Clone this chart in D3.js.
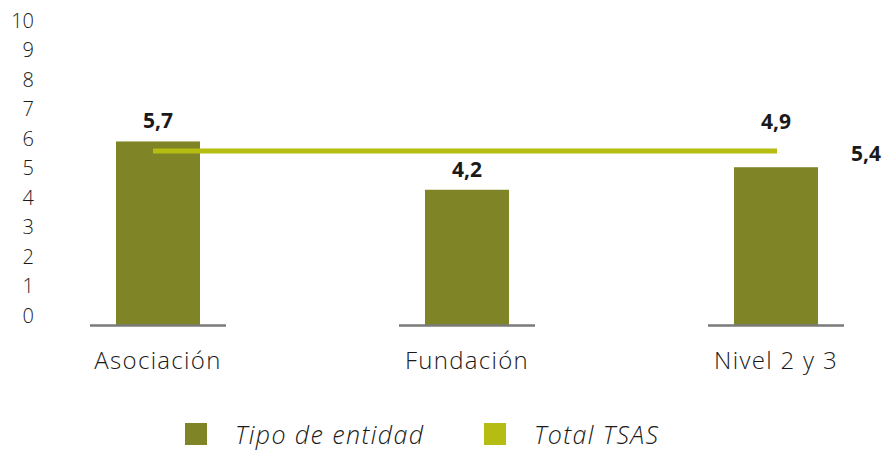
<!DOCTYPE html>
<html>
<head>
<meta charset="utf-8">
<script src="https://cdn.jsdelivr.net/npm/d3@7"></script>
<style>
  body { margin: 0; background: #fff; }
  svg text { font-family: "Open Sans", Lato, sans-serif; fill: #1a1a1a; }
</style>
</head>
<body>
<svg id="chart" width="892" height="451"></svg>
<script>
// data
var categories = ["Asociación", "Fundación", "Nivel 2 y 3"];
var values = [5.7, 4.2, 4.9];
var totalTSAS = 5.4;
var yTicks = [0, 1, 2, 3, 4, 5, 6, 7, 8, 9, 10];
var legendLabels = ["Tipo de entidad", "Total TSAS"];

var barColor = "#7f8527", lineColor = "#b5bc12";

var svg = d3.select("#chart");

// scales
var x = d3.scalePoint().domain(categories).range([158, 776]);
var y = d3.scaleLinear().domain([0, 10]).range([325, 3]);
var yAxisScale = d3.scaleLinear().domain([0, 10]).range([316, 21]); // tick labels sit a bit off

// y axis (labels only)
var yAxis = svg.append("g")
    .attr("transform", "translate(34,0)")
    .call(d3.axisLeft(yAxisScale).tickValues(yTicks).tickSize(0).tickPadding(0).tickFormat(d3.format("d")));
yAxis.select(".domain").remove();
yAxis.selectAll("text")
    .style("font-family", "'Open Sans', sans-serif")
    .style("font-size", "20px")
    .style("font-weight", 300)
    .attr("fill", "#1a1a1a");

// bars
svg.selectAll("rect.bar")
    .data(values)
    .enter()
    .append("rect")
      .attr("class", "bar")
      .attr("x", function(d, i) { return x(categories[i]) - 42; })
      .attr("width", 84)
      .attr("y", function(d) { return y(d); })
      .attr("height", function(d) { return y(0) - y(d); })
      .attr("fill", barColor);

// baseline segments under each bar
svg.selectAll("line.base")
    .data(categories)
    .enter()
    .append("line")
      .attr("class", "base")
      .attr("x1", function(d) { return x(d) - 68; })
      .attr("x2", function(d) { return x(d) + 68; })
      .attr("y1", y(0) + 0.5)
      .attr("y2", y(0) + 0.5)
      .attr("stroke", "#7a7a7a")
      .attr("stroke-width", 2.5);

// total line
svg.append("line")
    .attr("x1", x(categories[0]) - 5)
    .attr("x2", x(categories[categories.length - 1]) + 1)
    .attr("y1", y(totalTSAS))
    .attr("y2", y(totalTSAS))
    .attr("stroke", lineColor)
    .attr("stroke-width", 5);

// value labels
var fmt = function(v) { return d3.format(".1f")(v).replace(".", ","); };
svg.selectAll("text.val")
    .data(values)
    .enter()
    .append("text")
      .attr("class", "val")
      .attr("x", function(d, i) { return x(categories[i]); })
      .attr("y", function(d) {
          var base = y(d) - 13;
          // label would hit the total line -> lift it above
          if (Math.abs(base - 8 - y(totalTSAS)) < 16) return y(totalTSAS) - 22;
          return base;
      })
      .attr("text-anchor", "middle")
      .style("font-size", "21px")
      .style("font-weight", "bold")
      .text(fmt);

svg.append("text")
    .attr("x", 866)
    .attr("y", y(totalTSAS) + 10)
    .attr("text-anchor", "middle")
    .style("font-size", "21px")
    .style("font-weight", "bold")
    .text(fmt(totalTSAS));

// category labels
svg.selectAll("text.cat")
    .data(categories)
    .enter()
    .append("text")
      .attr("class", "cat")
      .attr("x", function(d) { return x(d); })
      .attr("y", 369)
      .attr("text-anchor", "middle")
      .style("font-size", "24px")
      .style("font-weight", 300)
      .style("letter-spacing", "1.3px")
      .text(function(d) { return d; });

// legend
var legend = svg.selectAll("g.leg")
    .data(legendLabels)
    .enter()
    .append("g")
      .attr("class", "leg")
      .attr("transform", function(d, i) { return "translate(" + (185 + i * 299) + ",423)"; });
legend.append("rect")
    .attr("width", 22)
    .attr("height", 22)
    .attr("fill", function(d, i) { return i === 0 ? barColor : lineColor; });
legend.append("text")
    .attr("x", 50)
    .attr("y", 21)
    .style("font-size", "25px")
    .style("font-style", "italic")
    .style("font-weight", 300)
    .style("letter-spacing", "1.4px")
    .text(function(d) { return d; });
</script>
</body>
</html>
